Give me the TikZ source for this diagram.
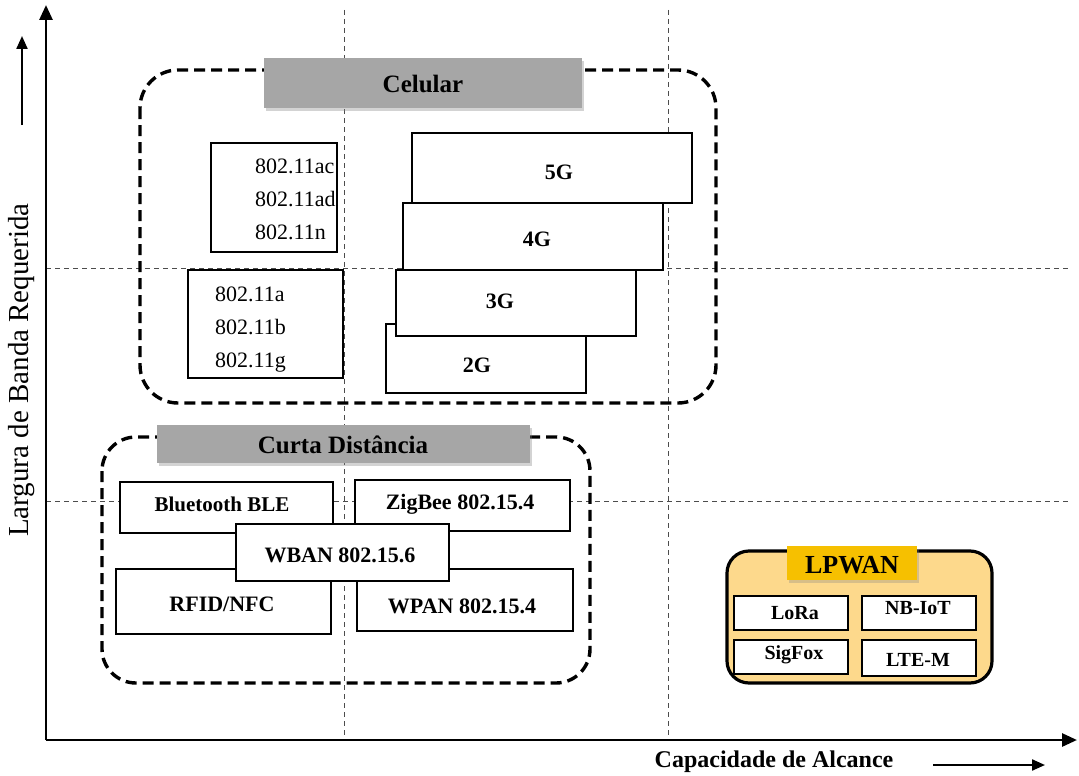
\documentclass[tikz,border=0pt]{standalone}
\usepackage{fontspec}
\setmainfont{Liberation Serif}
\usetikzlibrary{arrows.meta,shadows}
\definecolor{hdrgray}{RGB}{166,166,166}
\definecolor{lpfill}{RGB}{253,217,140}
\definecolor{lphead}{RGB}{246,192,0}
\begin{document}
\begin{tikzpicture}[x=1pt,y=-1pt,
  grid/.style={line width=0.8pt, dash pattern=on 5pt off 4pt, black!70},
  group/.style={line width=3.4pt, dash pattern=on 11pt off 6pt, rounded corners=38pt},
  box/.style={draw, line width=2.2pt, fill=white, inner sep=0pt},
  header/.style={fill=hdrgray, inner sep=0pt, drop shadow={shadow xshift=2pt, shadow yshift=-3pt, opacity=0.35}},
  lbl/.style={inner sep=0pt, font=\fontsize{22}{26}\selectfont\bfseries},
  wifi/.style={inner sep=0pt, align=left, font=\fontsize{22}{33}\selectfont},
  tip/.style={-{Triangle[width=13pt,length=15pt]}, line width=2.8pt},
  smalltip/.style={-{Triangle[width=11pt,length=13pt]}, line width=2.2pt}]
\useasboundingbox (0,0) rectangle (1079,776);

% axes
\coordinate (o) at (46,740);
\coordinate (ytop) at (46,5);
\coordinate (xend) at (1077,740);
% reference grid
\coordinate (v1a) at (344,10);  \coordinate (v1b) at (344,740);
\coordinate (v2a) at (668,10);  \coordinate (v2b) at (668,740);
\coordinate (h1a) at (46,268);  \coordinate (h1b) at (1070,268);
\coordinate (h2a) at (46,501);  \coordinate (h2b) at (1070,501);
\draw[grid] (v1a) -- (v1b);
\draw[grid] (v2a) -- (v2b);
\draw[grid] (h1a) -- (h1b);
\draw[grid] (h2a) -- (h2b);
\draw[tip] (o) -- (ytop);
\draw[tip] (o) -- (xend);

% axis titles
\node[rotate=90, inner sep=0pt, font=\fontsize{29}{30}\selectfont] (ylab) at (22,370) {Largura de Banda Requerida};
\coordinate (ya1) at (22,125); \coordinate (ya2) at (22,36);
\draw[smalltip] (ya1) -- (ya2);
\node[inner sep=0pt, font=\fontsize{24}{28}\selectfont\bfseries] (xlab) at (774,762) {Capacidade de Alcance};
\coordinate (xa1) at (933,765); \coordinate (xa2) at (1045,765);
\draw[smalltip] (xa1) -- (xa2);

% cellular group
\draw[group] (140,70) rectangle (716,403);
\node[header, minimum width=318pt, minimum height=50pt] (celh) at (423,83) {};
\node[lbl, font=\fontsize{25}{28}\selectfont\bfseries] (celt) at (423,84) {Celular};

\node[box, minimum width=126pt, minimum height=109pt] (wac) at (274,197.5) {};
\node[wifi, anchor=west] (wact) at (255,199) {802.11ac\\802.11ad\\802.11n};
\node[box, minimum width=155pt, minimum height=108pt] (wa) at (265.5,324) {};
\node[wifi, anchor=west] (wat) at (215,330) {802.11a\\802.11b\\802.11g};

\node[box, minimum width=200pt, minimum height=69pt] (g2) at (486,358.5) {};
\node[lbl] (g2t) at (477,365) {2G};
\node[box, minimum width=240pt, minimum height=66pt] (g3) at (516,303) {};
\node[lbl] (g3t) at (500,301) {3G};
\node[box, minimum width=260pt, minimum height=67pt] (g4) at (533,236.5) {};
\node[lbl] (g4t) at (537,239) {4G};
\node[box, minimum width=280pt, minimum height=70pt] (g5) at (552,168) {};
\node[lbl] (g5t) at (559,172) {5G};

% short range group
\draw[group, rounded corners=34pt] (102,437) rectangle (590,683);
\node[header, minimum width=373pt, minimum height=38pt] (curh) at (343.5,444) {};
\node[lbl, font=\fontsize{25}{28}\selectfont\bfseries] (curt) at (343,445) {Curta Distância};

\node[box, minimum width=213pt, minimum height=51pt] (bt) at (226.5,507.5) {};
\node[lbl, font=\fontsize{21}{24}\selectfont\bfseries] (btt) at (222,504) {Bluetooth BLE};
\node[box, minimum width=215pt, minimum height=51pt] (zb) at (462.5,505.5) {};
\node[lbl] (zbt) at (460,504) {ZigBee 802.15.4};
\node[box, minimum width=215pt, minimum height=65pt] (rf) at (223.5,601.5) {};
\node[lbl] (rft) at (222,604) {RFID/NFC};
\node[box, minimum width=216pt, minimum height=62pt] (wp) at (465,600) {};
\node[lbl] (wpt) at (462,606) {WPAN 802.15.4};
\node[box, minimum width=213pt, minimum height=57pt] (wb) at (342.5,552.5) {};
\node[lbl] (wbt) at (340,555) {WBAN 802.15.6};

% LPWAN group
\draw[line width=3.2pt, rounded corners=22pt, fill=lpfill] (727,551) rectangle (992,683);
\node[fill=lphead, inner sep=0pt, minimum width=130pt, minimum height=34pt,
      drop shadow={shadow xshift=2pt, shadow yshift=-3pt, opacity=0.3}] (lph) at (852,563) {};
\node[lbl, font=\fontsize{26}{28}\selectfont\bfseries] (lpt) at (852,565) {LPWAN};
\node[box, minimum width=114pt, minimum height=34pt] (lo) at (791,613) {};
\node[lbl, font=\fontsize{20}{24}\selectfont\bfseries] (lot) at (795,613) {LoRa};
\node[box, minimum width=114pt, minimum height=34pt] (nb) at (919,613) {};
\node[lbl, font=\fontsize{20}{24}\selectfont\bfseries] (nbt) at (918,608) {NB-IoT};
\node[box, minimum width=114pt, minimum height=34pt] (sf) at (791,657) {};
\node[lbl, font=\fontsize{20}{24}\selectfont\bfseries] (sft) at (794,655) {SigFox};
\node[box, minimum width=114pt, minimum height=36pt] (lt) at (919,658) {};
\node[lbl, font=\fontsize{20}{24}\selectfont\bfseries] (ltt) at (918,660) {LTE-M};
\end{tikzpicture}
\end{document}
